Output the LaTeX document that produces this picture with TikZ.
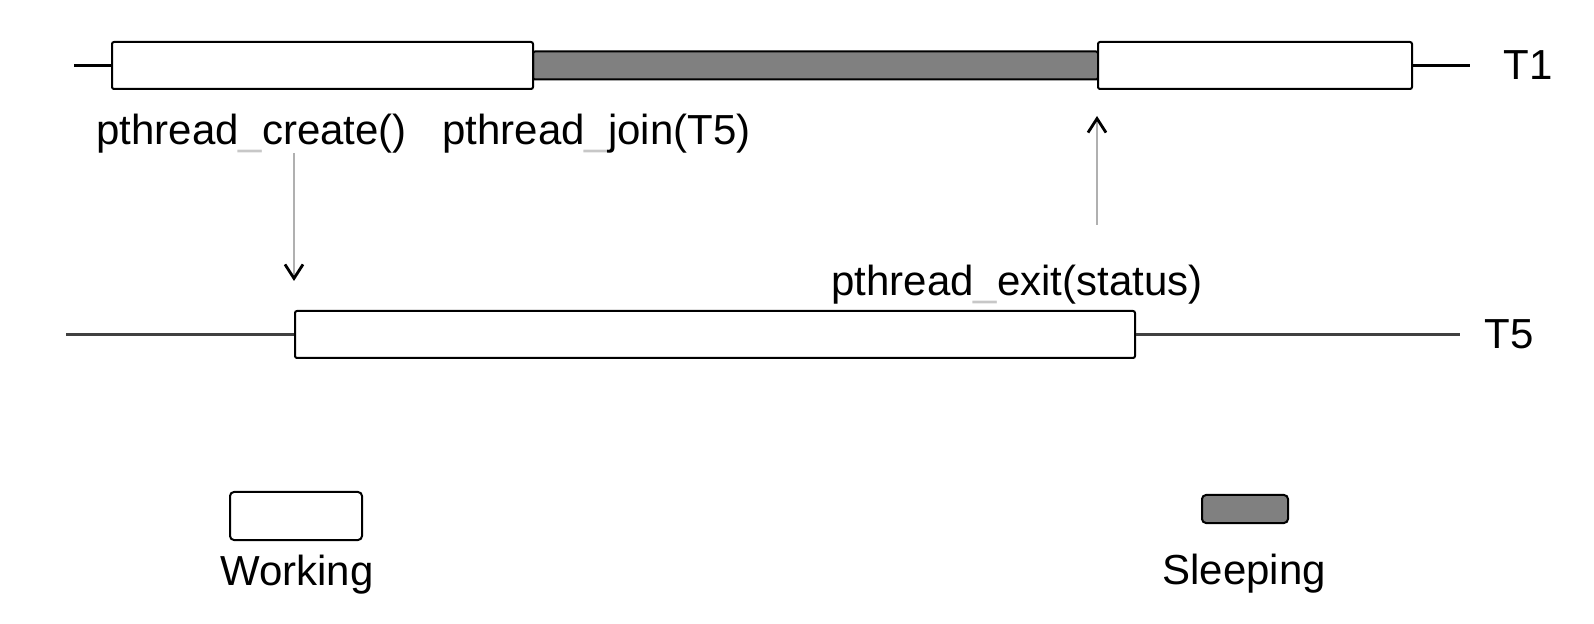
\documentclass[tikz,border=0pt]{standalone}
\usepackage{fontspec}
\setmainfont{Liberation Sans}
\usetikzlibrary{arrows.meta}
\definecolor{sleepgray}{HTML}{808080}
\definecolor{threadgray}{HTML}{404040}
\definecolor{callgray}{HTML}{B0B0B0}
\newcommand{\us}{{\color{black!22}\_}}
\tikzset{
  workbox/.style={draw=black, line width=1pt, fill=white, rounded corners=1pt, inner sep=0pt},
  sleepbox/.style={draw=black, line width=1pt, fill=sleepgray, rounded corners=1pt, inner sep=0pt},
  lbl/.style={anchor=base west, inner sep=0pt, font=\fontsize{21}{25}\selectfont},
  t1line/.style={draw=black, line width=1.3pt},
  t5line/.style={draw=threadgray, line width=1.25pt},
  callarrow/.style={draw=callgray, line width=0.6pt, -{Straight Barb[length=7pt, width=9pt, color=black, line width=1.4pt]}}
}
\begin{document}
\begin{tikzpicture}[x=0.5pt, y=-0.5pt]
\useasboundingbox (0,0) rectangle (1594,624);
% T1 thread
\coordinate (t1s) at (74,65.5);
\coordinate (t1e) at (1470,65.5);
\node[sleepbox, minimum width=282.5pt, minimum height=14pt] (s1) at (815.5,65.5) {};
\node[workbox, minimum width=210.5pt, minimum height=23.5pt] (b1) at (322.5,65.5) {};
\node[workbox, minimum width=157pt, minimum height=23.5pt] (b3) at (1255,65.5) {};
\draw[t1line] (t1s) -- (b1.west);
\draw[t1line] (b3.east) -- (t1e);
\node[lbl] (t1) at (1503,80) {T1};
% T5 thread
\coordinate (t5s) at (66,334.5);
\coordinate (t5e) at (1460,334.5);
\node[workbox, minimum width=420pt, minimum height=23.5pt] (b5) at (715,334.5) {};
\draw[t5line] (t5s) -- (b5.west);
\draw[t5line] (b5.east) -- (t5e);
\node[lbl] (t5) at (1484,349) {T5};
% labels
\node[lbl] (lcreate) at (96,145) {pthread\us create()};
\node[lbl] (ljoin) at (442,145) {pthread\us join(T5)};
\node[lbl] (lexit) at (831,296) {pthread\us exit(status)};
% call arrows
\coordinate (a1s) at (294,153);
\coordinate (a1e) at (294,281);
\coordinate (a2s) at (1097,225);
\coordinate (a2e) at (1097,116);
\draw[callarrow] (a1s) -- (a1e);
\draw[callarrow] (a2s) -- (a2e);
% legend
\node[workbox, rounded corners=2pt, minimum width=66pt, minimum height=24pt] (lw) at (296,516) {};
\node[lbl] (lwt) at (220,585) {Working};
\node[sleepbox, rounded corners=2pt, minimum width=43pt, minimum height=14pt] (ls) at (1245,509) {};
\node[lbl] (lst) at (1162,584) {Sleeping};
\end{tikzpicture}
\end{document}
